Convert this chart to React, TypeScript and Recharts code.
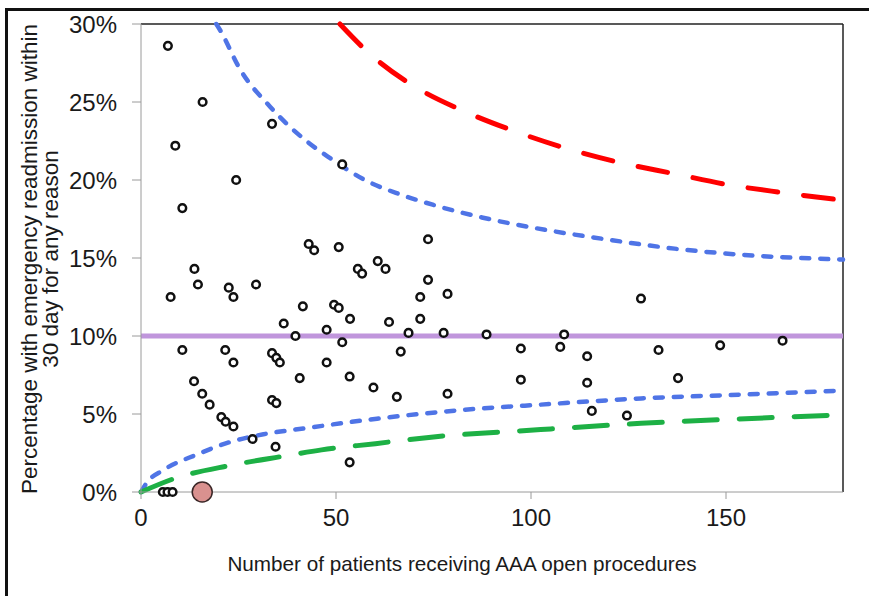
import { ComposedChart, Line, Scatter, XAxis, YAxis, ReferenceLine } from 'recharts'

// hospital results: number of open AAA procedures vs % readmitted within 30 days
const PATIENTS = [
  6.9, 15.8, 8.8, 33.6, 24.4, 51.6, 10.6, 13.7, 14.6, 7.6, 22.5, 23.7, 29.5, 43.0, 44.4,
  50.7, 73.6, 55.6, 56.7, 60.7, 62.7, 73.6, 71.6, 78.6, 41.5, 49.5, 50.7, 53.6, 63.6, 71.6,
  36.6, 39.6, 47.6, 51.6, 68.6, 77.6, 66.6, 88.6, 108.5, 97.4, 107.5, 114.4, 97.4, 114.4, 115.6,
  124.6, 128.2, 132.7, 137.7, 148.5, 164.5, 10.6, 21.6, 23.7, 33.6, 34.7, 35.6, 47.6, 40.7, 53.5,
  59.6, 65.6, 78.6, 53.5, 13.6, 15.7, 17.6, 20.6, 21.7, 23.7, 28.6, 34.5, 33.6, 34.7,
  5.6, 6.8, 8.1,
]
const READMIT_PCT = [
  28.6, 25.0, 22.2, 23.6, 20.0, 21.0, 18.2, 14.3, 13.3, 12.5, 13.1, 12.5, 13.3, 15.9, 15.5,
  15.7, 16.2, 14.3, 14.0, 14.8, 14.3, 13.6, 12.5, 12.7, 11.9, 12.0, 11.8, 11.1, 10.9, 11.1,
  10.8, 10.0, 10.4, 9.6, 10.2, 10.2, 9.0, 10.1, 10.1, 9.2, 9.3, 8.7, 7.2, 7.0, 5.2,
  4.9, 12.4, 9.1, 7.3, 9.4, 9.7, 9.1, 9.1, 8.3, 8.9, 8.6, 8.3, 8.3, 7.3, 7.4,
  6.7, 6.1, 6.3, 1.9, 7.1, 6.3, 5.6, 4.8, 4.5, 4.2, 3.4, 2.9, 5.9, 5.7,
  0, 0, 0,
]

// highlighted unit
const HIGHLIGHT_X = [15.7]
const HIGHLIGHT_Y = [0]

const TARGET = 10

// funnel limits (first upper points are where they leave the top)
const UPPER_998_X = [51, 58.6, 70.1, 82.9, 96.1, 109.4, 123.1, 136.8, 150.5, 164.2, 180]
const UPPER_998_Y = [30, 28.1, 26.0, 24.4, 23.1, 22.0, 21.1, 20.4, 19.7, 19.2, 18.7]
const UPPER_95_X = [19.3, 20.3, 25.4, 33.1, 42.9, 48.5, 57.4, 66.2, 75, 87.4, 101.5, 119.2, 136.8, 154.4, 180]
const UPPER_95_Y = [30, 29.6, 27.1, 24.7, 22.4, 21.4, 20.0, 19.1, 18.4, 17.6, 16.9, 16.2, 15.6, 15.2, 14.9]
const LOWER_95_X = [0, 1.5, 5.7, 14.3, 22.8, 31.4, 42.5, 60.5, 84.5, 102.5, 128.2, 155, 180]
const LOWER_95_Y = [0, 0.6, 1.4, 2.4, 3.2, 3.7, 4.1, 4.7, 5.3, 5.6, 6.0, 6.25, 6.5]
const LOWER_998_X = [0, 9, 22.8, 36.6, 46.3, 60.1, 73.8, 102.5, 128.2, 155, 180]
const LOWER_998_Y = [0, 0.9, 1.7, 2.3, 2.7, 3.1, 3.5, 4.0, 4.4, 4.7, 4.95]

const X_TICKS = [0, 50, 100, 150]
const Y_TICKS = [0, 5, 10, 15, 20, 25, 30]

const zip = (xs: number[], ys: number[]) => xs.map((x, i) => ({ x, y: ys[i] }))

const font = 'Liberation Sans, Arial, sans-serif'
const tickStyle = { fontFamily: font, fontSize: 24, fill: '#1a1a1a' }

function OpenDot(props: any) {
  return <circle cx={props.cx} cy={props.cy} r={3.8} fill="#fff" stroke="#111" strokeWidth={2.5} />
}

function BigDot(props: any) {
  return <circle cx={props.cx} cy={props.cy} r={10} fill="#D9918F" stroke="#3a2626" strokeWidth={1.5} />
}

export default function App() {
  const points = zip(PATIENTS, READMIT_PCT)
  const highlight = zip(HIGHLIGHT_X, HIGHLIGHT_Y)

  return (
    <div style={{ position: 'absolute', left: 0, top: 0, width: 869, height: 596, overflow: 'hidden', background: '#fff' }}>
      <div style={{
        position: 'absolute', left: 5, top: 8, width: 900, height: 586,
        borderTop: '3px solid #111', borderLeft: '3px solid #111', borderBottom: '1px solid #bbb',
      }} />
      <ComposedChart width={869} height={596} margin={{ top: 24, right: 26, bottom: 44, left: 0 }}>
        <XAxis
          type="number" dataKey="x" domain={[0, 180]} ticks={X_TICKS}
          stroke="#9a9a9a" tickSize={7} tickMargin={10} height={60} tick={tickStyle}
        />
        <YAxis
          type="number" dataKey="y" domain={[0, 30]} ticks={Y_TICKS}
          stroke="#9a9a9a" tickSize={9} tickMargin={15} width={141} tick={tickStyle}
          tickFormatter={(v: number) => `${v}%`}
        />
        <ReferenceLine y={30} stroke="#222" strokeWidth={1.5} />
        <ReferenceLine x={180} stroke="#222" strokeWidth={1.5} />
        <ReferenceLine y={TARGET} stroke="#C096DC" strokeWidth={5} />
        <Line data={zip(UPPER_998_X, UPPER_998_Y)} dataKey="y" type="monotone" stroke="#FF0000" strokeWidth={5}
          strokeDasharray="30 26" strokeLinecap="round" dot={false} isAnimationActive={false} />
        <Line data={zip(UPPER_95_X, UPPER_95_Y)} dataKey="y" type="monotone" stroke="#4F74E6" strokeWidth={4.5}
          strokeDasharray="8 11" strokeLinecap="round" dot={false} isAnimationActive={false} />
        <Line data={zip(LOWER_95_X, LOWER_95_Y)} dataKey="y" type="monotone" stroke="#4F74E6" strokeWidth={4.5}
          strokeDasharray="8 11" strokeLinecap="round" dot={false} isAnimationActive={false} />
        <Line data={zip(LOWER_998_X, LOWER_998_Y)} dataKey="y" type="monotone" stroke="#1DB045" strokeWidth={5}
          strokeDasharray="33 22" strokeLinecap="round" dot={false} isAnimationActive={false} />
        <Scatter data={points} dataKey="y" shape={OpenDot} isAnimationActive={false} />
        <Scatter data={highlight} dataKey="y" shape={BigDot} isAnimationActive={false} />
      </ComposedChart>
      <div style={{
        position: 'absolute', left: 462, top: 552, transform: 'translateX(-50%)',
        fontFamily: font, fontSize: 20.7, color: '#1a1a1a', whiteSpace: 'nowrap',
      }}>
        Number of patients receiving AAA open procedures
      </div>
      <div style={{
        position: 'absolute', left: 40, top: 259, transform: 'translate(-50%, -50%) rotate(-90deg)',
        fontFamily: font, fontSize: 22.5, color: '#1a1a1a', whiteSpace: 'nowrap', textAlign: 'center', lineHeight: '21px',
      }}>
        Percentage with emergency readmission within<br />30 day for any reason
      </div>
    </div>
  )
}
